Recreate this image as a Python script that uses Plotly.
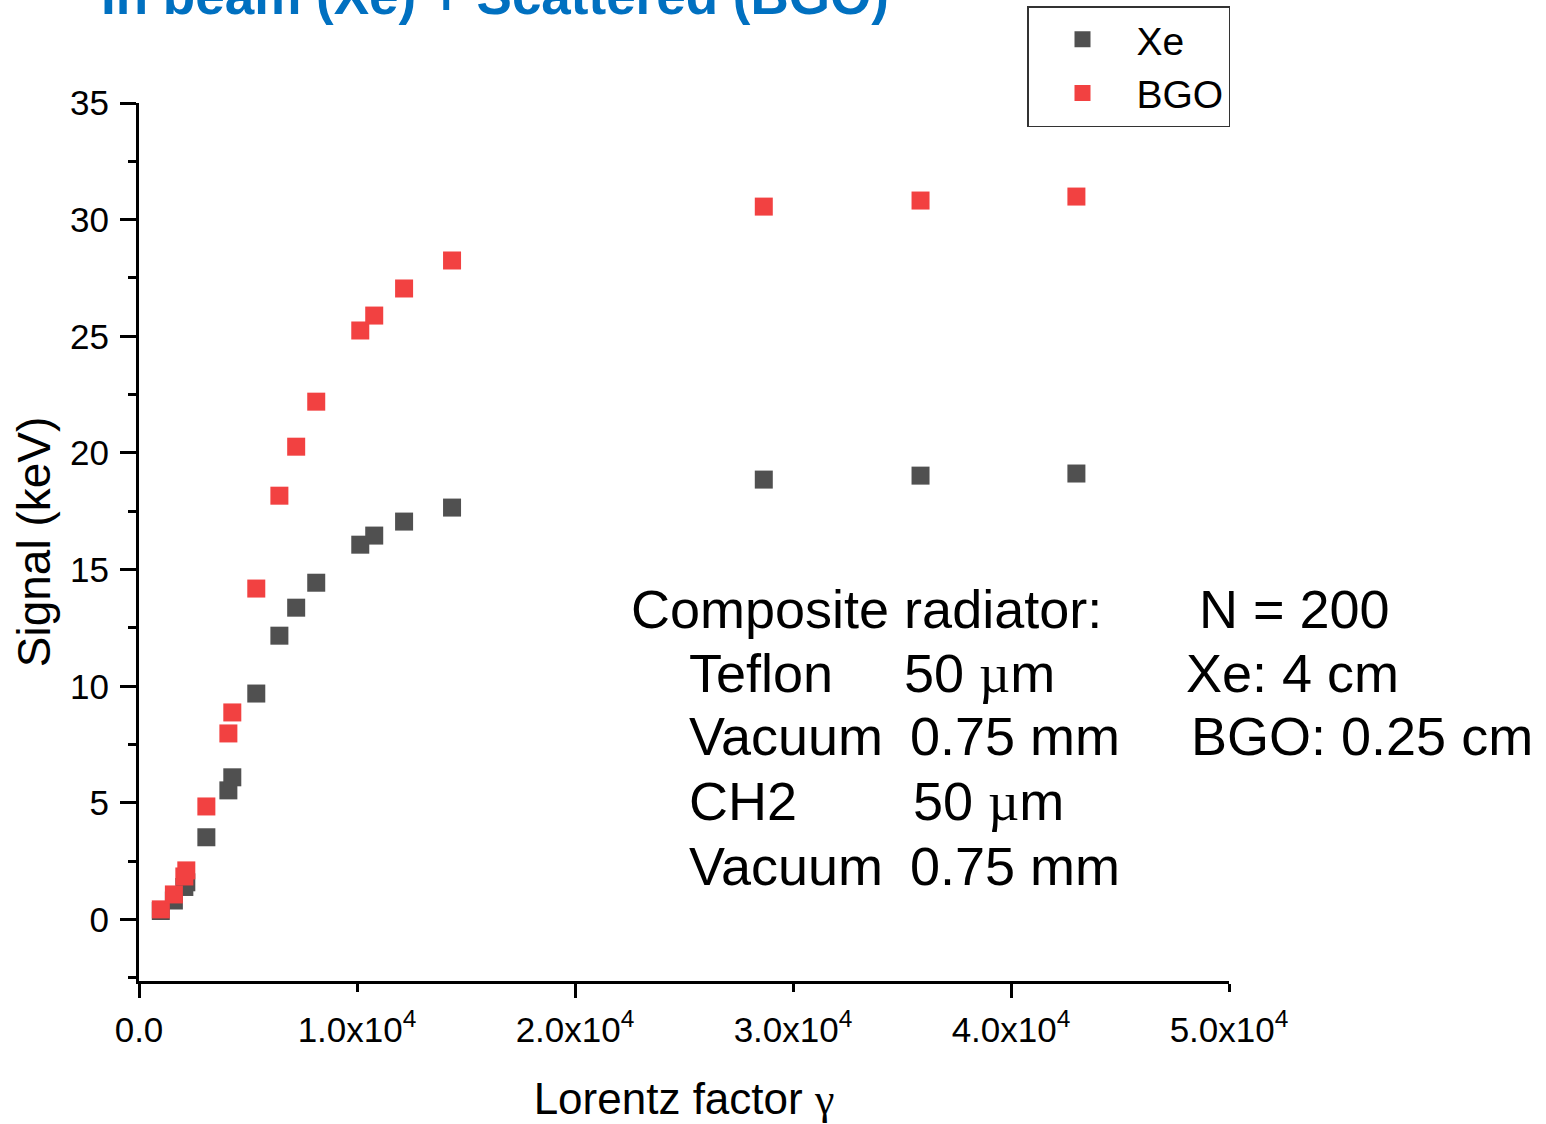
import plotly.graph_objects as go

# Lorentz factor of the beam and simulated signal in each detector
gamma = [1000, 1600, 2080, 2170, 3090, 4100, 4280, 5380, 6440, 7210, 8130,
         10150, 10790, 12160, 14360, 28660, 35850, 43000]
signal_xe = [0.37, 0.82, 1.40, 1.60, 3.53, 5.54, 6.10, 9.69, 12.17, 13.37, 14.44,
             16.07, 16.46, 17.06, 17.66, 18.86, 19.03, 19.12]
signal_bgo = [0.44, 1.08, 1.85, 2.11, 4.85, 7.98, 8.88, 14.19, 18.17, 20.27, 22.20,
              25.25, 25.89, 27.05, 28.25, 30.56, 30.82, 30.99]

x_tick_vals = [0, 10000, 20000, 30000, 40000, 50000]
x_tick_text = ["0.0", "1.0x10<sup>4</sup>", "2.0x10<sup>4</sup>", "3.0x10<sup>4</sup>",
               "4.0x10<sup>4</sup>", "5.0x10<sup>4</sup>"]
x_long_ticks = [0, 20000, 40000]

FONT = "Arial, 'Liberation Sans', sans-serif"
SERIF = "'Times New Roman', 'Liberation Serif', serif"
MU = f"<span style=\"font-family:{SERIF}\">µ</span>"

W, H = 1546, 1124
ML, MR, MT, MB = 139, 317, 103, 143
PW, PH = W - ML - MR, H - MT - MB


def px_x(px):
    return (px - ML) / PW


def px_y(py):
    return (MT + PH - py) / PH


fig = go.Figure()
fig.add_trace(go.Scatter(
    x=gamma, y=signal_xe, mode="markers", name="Xe",
    marker=dict(symbol="square", size=18, color="#505050", line=dict(width=0)),
))
fig.add_trace(go.Scatter(
    x=gamma, y=signal_bgo, mode="markers", name="BGO",
    marker=dict(symbol="square", size=18, color="#F24141", line=dict(width=0)),
))
# carrier for the secondary tick axis
fig.add_trace(go.Scatter(x=[None], y=[None], xaxis="x2", showlegend=False,
                         hoverinfo="skip"))

# text block describing the radiator
info_size = 54
rows = [
    (628, [("Composite radiator:", 629), ("N = 200", 1197)]),
    (692, [("Teflon", 687), (f"50 {MU}m", 902), ("Xe: 4 cm", 1184)]),
    (755, [("Vacuum", 687), ("0.75 mm", 908), ("BGO: 0.25 cm", 1189)]),
    (820, [("CH2", 687), (f"50 {MU}m", 911)]),
    (885, [("Vacuum", 687), ("0.75 mm", 908)]),
]
annotations = []
for base, cells in rows:
    for txt, left in cells:
        annotations.append(dict(
            text=txt, xref="paper", yref="paper",
            x=px_x(left), y=px_y(base - 0.3465 * info_size),
            xanchor="left", yanchor="middle", showarrow=False,
            font=dict(family=FONT, size=info_size, color="black"),
        ))

title_size = 53
annotations.append(dict(
    text="<b>In beam (Xe) + Scattered (BGO)</b>", xref="paper", yref="paper",
    x=px_x(99), y=px_y(14 - 0.3465 * title_size),
    xanchor="left", yanchor="middle", showarrow=False,
    font=dict(family=FONT, size=title_size, color="#0070C0"),
))

fig.update_layout(
    width=W, height=H,
    margin=dict(l=ML, r=MR, t=MT, b=MB, autoexpand=False),
    paper_bgcolor="white", plot_bgcolor="white",
    font=dict(family=FONT, color="black"),
    showlegend=True,
    legend=dict(
        x=px_x(1027), y=px_y(6), xanchor="left", yanchor="top",
        bgcolor="white", bordercolor="#333333", borderwidth=1.5,
        font=dict(family=FONT, size=39, color="black"),
        itemwidth=98, tracegroupgap=0,
    ),
    xaxis=dict(
        range=[0, 50000], tickvals=x_tick_vals, ticktext=x_tick_text,
        ticks="outside", ticklen=8, tickwidth=3, tickcolor="black",
        showline=True, linewidth=3, linecolor="black",
        showgrid=False, zeroline=False, automargin=False,
        tickfont=dict(family=FONT, size=35, color="black"),
        ticklabelstandoff=8,
        title=dict(text=f"Lorentz factor <span style=\"font-family:{SERIF}\">γ</span>",
                   font=dict(family=FONT, size=44, color="black"), standoff=37),
    ),
    xaxis2=dict(
        range=[0, 50000], overlaying="x", anchor="y", side="bottom",
        tickvals=x_long_ticks, ticks="outside", ticklen=16, tickwidth=3,
        tickcolor="black", showticklabels=False, showline=False,
        showgrid=False, zeroline=False, automargin=False,
    ),
    yaxis=dict(
        range=[-2.63, 35], tick0=0, dtick=5,
        ticks="outside", ticklen=16, tickwidth=3, tickcolor="black",
        minor=dict(tick0=0, dtick=2.5, ticks="outside", ticklen=8, tickwidth=3,
                   tickcolor="black"),
        showline=True, linewidth=3, linecolor="black",
        showgrid=False, zeroline=False, automargin=False,
        tickfont=dict(family=FONT, size=35, color="black"),
        ticklabelstandoff=4,
        title=dict(text="Signal (keV)", font=dict(family=FONT, size=46, color="black"),
                   standoff=5),
    ),
    annotations=annotations,
)

fig.write_html("out.html")
